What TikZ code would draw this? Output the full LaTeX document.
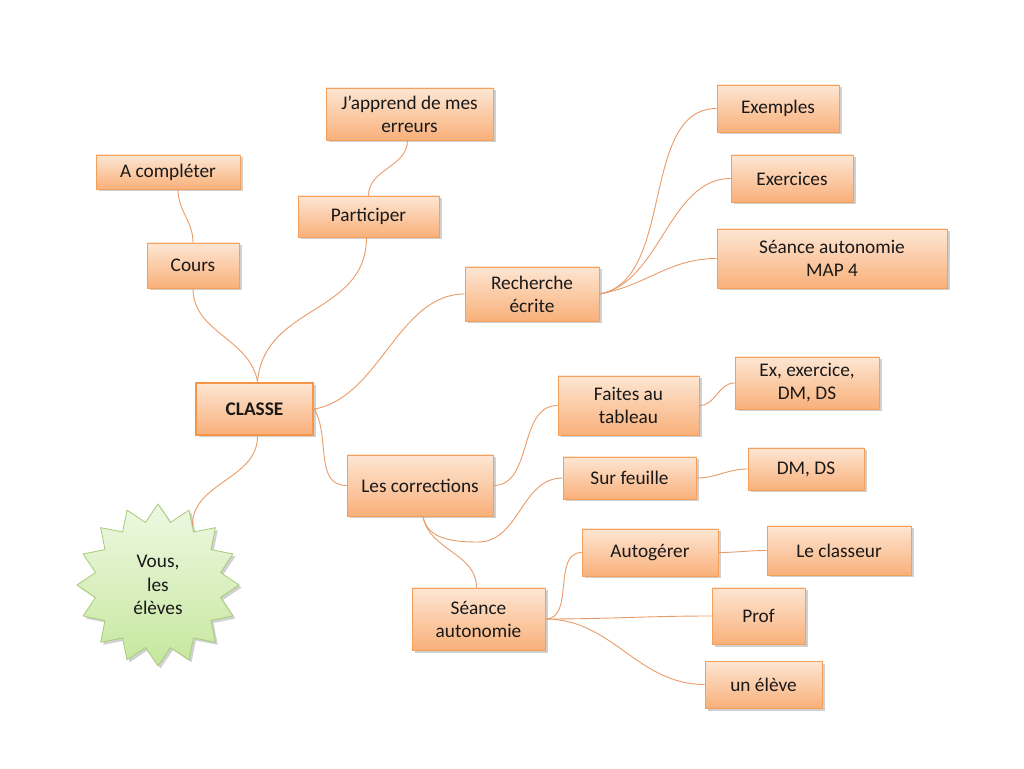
\documentclass[tikz,border=0pt]{standalone}
\usepackage{fontspec}
\setmainfont{Carlito}
\usetikzlibrary{shapes.geometric,shadows}
\definecolor{boxtop}{HTML}{FDE6D3}
\definecolor{boxbot}{HTML}{F9B07A}
\definecolor{boxline}{HTML}{F5A05A}
\definecolor{mainline}{HTML}{F79646}
\definecolor{conn}{HTML}{E99C68}
\definecolor{startop}{HTML}{EEF8E2}
\definecolor{starbot}{HTML}{C6E79E}
\definecolor{starline}{HTML}{A6CC78}
\begin{document}
\begin{tikzpicture}[x=1pt,y=1pt,
  mbox/.style={draw=boxline, line width=0.8pt, top color=boxtop, bottom color=boxbot,
    align=center, inner sep=2pt, text=black!90, font=\fontsize{19.3}{23}\selectfont,
    drop shadow={shadow xshift=2.5pt, shadow yshift=-2.5pt, opacity=0.3, fill=black!60}},
  mainbox/.style={mbox, line width=2.6pt, draw=mainline, font=\fontsize{19.3}{23}\selectfont\bfseries},
  link/.style={draw=conn, line width=0.9pt}
]
\useasboundingbox (0,0) rectangle (1024,768);
\fill[white] (0,0) rectangle (1024,768);

% nodes
\node[mbox, minimum width=167, minimum height=52] (jap) at (409.5,654) {J’apprend de mes\\erreurs};
\node[mbox, minimum width=144, minimum height=34] (acomp) at (168,596) {A compléter};
\node[mbox, minimum width=141, minimum height=41] (part) at (368.5,551.5) {Participer};
\node[mbox, minimum width=92, minimum height=45] (cours) at (193,502.5) {Cours};
\node[mainbox, minimum width=117, minimum height=52] (classe) at (254.5,359) {CLASSE};
\node[mbox, minimum width=134, minimum height=54] (rech) at (532,474) {Recherche\\écrite};
\node[mbox, minimum width=122, minimum height=47] (exem) at (778,659.5) {Exemples};
\node[mbox, minimum width=122, minimum height=47] (exer) at (792,589.5) {Exercices};
\node[mbox, minimum width=230, minimum height=59] (map) at (832,509.5) {Séance autonomie\\MAP 4};
\node[mbox, minimum width=141, minimum height=59] (faites) at (628.5,362.5) {Faites au\\tableau};
\node[mbox, minimum width=144, minimum height=52] (exds) at (807,385) {Ex, exercice,\\DM, DS};
\node[mbox, minimum width=146, minimum height=61] (corr) at (420,282.5) {Les corrections};
\node[mbox, minimum width=133, minimum height=42] (surf) at (629.5,290) {Sur feuille};
\node[mbox, minimum width=116, minimum height=42] (dmds) at (806,299) {DM, DS};
\node[mbox, minimum width=136, minimum height=47] (autog) at (650,215.5) {Autogérer};
\node[mbox, minimum width=144, minimum height=49] (classeur) at (839,217.5) {Le classeur};
\node[mbox, minimum width=133, minimum height=62] (seance) at (478.5,149) {Séance\\autonomie};
\node[mbox, minimum width=93, minimum height=56] (prof) at (758.5,152) {Prof};
\node[mbox, minimum width=117, minimum height=47] (eleve) at (763.5,83.5) {un élève};
\node[star, star points=16, star point ratio=1.27, minimum size=162, inner sep=0pt,
  draw=starline, line width=0.8pt, top color=startop, bottom color=starbot,
  align=center, text=black!90, font=\fontsize{19.3}{23.5}\selectfont,
  drop shadow={shadow xshift=2.5pt, shadow yshift=-2.5pt, opacity=0.3, fill=black!60}]
  (star) at (158,183) {Vous,\\les\\élèves};

\coordinate (cdip) at (478,226);

% connectors
\draw[link] ([xshift=3]classe.north) to[out=100,in=-90] (cours.south);
\draw[link] ([xshift=3]classe.north) to[out=85,in=-90,looseness=1.1] ([xshift=-2]part.south);
\draw[link] (cours.north) to[out=90,in=-90] ([xshift=10]acomp.south);
\draw[link] (part.north) to[out=90,in=-90] ([xshift=-2]jap.south);
\draw[link] (classe.east) to[out=10,in=180,looseness=0.9] (rech.west);
\draw[link] (classe.east) to[out=-60,in=180] (corr.west);
\draw[link] ([xshift=3]classe.south) to[out=-90,in=90] (star.60);
\draw[link] (rech.east) to[out=10,in=180,looseness=0.9] (exem.west);
\draw[link] (rech.east) to[out=10,in=180,looseness=0.9] (exer.west);
\draw[link] (rech.east) to[out=10,in=180] (map.west);
\draw[link] (corr.east) to[out=0,in=180] (faites.west);
\draw[link] ([xshift=3]corr.south) to[out=-80,in=180] (cdip) to[out=0,in=180] (surf.west);
\draw[link] ([xshift=3]corr.south) to[out=-80,in=90] ([xshift=-2]seance.north);
\draw[link] (faites.east) to[out=0,in=180] (exds.west);
\draw[link] (surf.east) to[out=0,in=180] (dmds.west);
\draw[link] (seance.east) to[out=0,in=180] (autog.west);
\draw[link] (seance.east) to[out=0,in=180] (prof.west);
\draw[link] (seance.east) to[out=0,in=180] (eleve.west);
\draw[link] (autog.east) to[out=0,in=180] (classeur.west);
\end{tikzpicture}
\end{document}
